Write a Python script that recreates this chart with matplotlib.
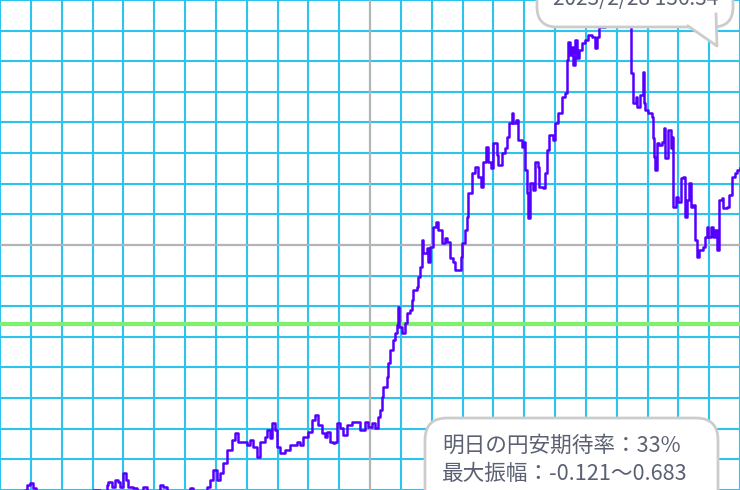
import matplotlib
matplotlib.use("Agg")
import matplotlib.pyplot as plt
import numpy as np
from matplotlib.patches import FancyBboxPatch, Polygon
from matplotlib.lines import Line2D
from matplotlib.transforms import IdentityTransform

plt.rcParams["font.family"] = ["Noto Sans CJK JP", "DejaVu Sans"]

# trading days (x) and USD/JPY rate (y)
days = [
    0, 7.1, 8.1, 8.8, 9.7, 10.7, 11.7, 16.2, 21.1, 25.9,
    30.2, 32.4, 34.7, 35.0, 36.3, 37.3, 38.3, 38.9, 39.9, 40.9,
    41.5, 43.1, 44.4, 46.4, 47.7, 49.3, 51.9, 52.9, 54.2, 56.8,
    59.4, 61.6, 62.6, 64.9, 67.1, 68.1, 69.1, 70.4, 71.4, 72.3,
    73.6, 75.2, 76.2, 77.2, 78.8, 80.1, 81.1, 82.1, 83.4, 84.3,
    85.9, 86.6, 87.6, 88.2, 89.2, 89.8, 90.8, 92.4, 94.1, 96.3,
    97.3, 98.3, 99.9, 101.2, 102.2, 103.1, 104.4, 105.4, 106.1, 107.0,
    108.0, 108.6, 109.3, 110.3, 111.2, 112.5, 114.2, 115.8, 116.8, 118.4,
    119.4, 120.6, 121.6, 122.6, 123.2, 123.9, 124.2, 125.5, 125.8, 126.5,
    127.5, 128.1, 128.8, 129.1, 129.4, 130.4, 131.4, 132.0, 133.0, 133.6,
    133.9, 135.2, 135.6, 136.2, 136.9, 137.2, 138.5, 138.8, 139.5, 140.4,
    141.4, 142.1, 143.3, 144.3, 145.0, 145.9, 146.9, 147.6, 148.5, 149.5,
    149.8, 150.8, 151.5, 151.8, 153.1, 154.1, 155.0, 156.0, 156.6, 157.6,
    158.3, 159.2, 159.9, 161.2, 161.5, 162.8, 163.8, 164.4, 165.1, 166.1,
    166.4, 167.4, 168.0, 169.3, 169.6, 170.3, 170.9, 171.2, 171.9, 172.9,
    173.5, 174.5, 174.8, 176.1, 176.8, 177.4, 178.1, 179.4, 180.0, 181.0,
    182.3, 183.2, 183.9, 184.2, 184.9, 185.5, 185.8, 186.5, 187.1, 187.8,
    188.8, 189.7, 190.7, 192.0, 193.0, 193.6, 194.3, 196.2, 198.5, 200.4,
    202.4, 204.3, 204.6, 205.3, 206.3, 206.6, 207.6, 208.5, 208.9, 209.2,
    210.2, 211.5, 211.8, 212.1, 212.4, 213.1, 213.7, 214.7, 215.4, 215.7,
    216.3, 216.6, 217.6, 217.9, 218.3, 219.2, 219.9, 220.9, 221.5, 222.2,
    222.8, 223.5, 224.1, 224.8, 225.4, 226.1, 226.7, 228.0, 228.6, 229.3,
    229.6, 230.6, 231.2, 231.9, 232.5, 233.2, 234.2, 234.5, 235.8, 236.4,
    237.4, 238.4, 239.0, 240.0,
]
rate = [
    119.51, 119.67, 120.00, 120.16, 120.23, 120.07, 119.77, 119.67, 119.74, 119.61,
    120.00, 119.93, 120.16, 120.26, 120.10, 120.33, 120.26, 120.10, 120.56, 120.33,
    120.10, 120.07, 119.97, 120.10, 119.97, 119.84, 120.16, 120.10, 119.97, 119.80,
    119.87, 120.07, 119.97, 119.90, 120.10, 120.33, 120.65, 120.33, 120.56, 120.88,
    121.31, 121.63, 121.86, 121.57, 121.57, 121.47, 121.63, 121.40, 121.08, 121.57,
    121.73, 121.96, 121.70, 122.19, 121.96, 121.40, 121.21, 121.31, 121.47, 121.57,
    121.47, 121.73, 121.89, 122.29, 122.45, 122.12, 121.86, 121.73, 121.89, 121.57,
    121.53, 121.57, 122.19, 122.02, 121.80, 122.12, 122.22, 122.22, 121.96, 122.22,
    122.06, 122.19, 122.02, 122.38, 122.61, 123.04, 123.36, 123.69, 124.15, 124.57,
    124.90, 125.13, 125.39, 125.98, 125.32, 125.13, 125.45, 125.78, 125.88, 126.20,
    126.53, 126.63, 126.96, 127.28, 128.16, 127.74, 127.90, 127.45, 127.94, 128.59,
    128.75, 128.49, 128.07, 128.23, 128.10, 127.58, 127.45, 127.18, 127.18, 127.61,
    128.07, 128.49, 128.91, 129.70, 130.35, 130.55, 130.22, 129.89, 130.71, 131.20,
    130.71, 130.51, 131.33, 130.94, 130.61, 131.00, 131.17, 131.53, 131.98, 132.31,
    131.98, 132.08, 131.43, 131.20, 131.36, 130.45, 129.70, 128.88, 130.02, 129.80,
    130.71, 130.55, 129.89, 129.86, 130.35, 131.10, 131.59, 131.43, 131.98, 132.31,
    132.83, 132.96, 134.04, 134.63, 134.20, 134.47, 133.88, 134.69, 134.11, 134.37,
    134.60, 134.69, 134.86, 134.79, 134.43, 134.79, 135.12, 135.51, 135.84, 136.34,
    135.84, 135.35, 133.62, 132.64, 132.83, 132.51, 132.90, 133.65, 132.64, 132.41,
    132.31, 132.18, 131.49, 130.87, 130.45, 131.33, 131.27, 131.36, 131.82, 130.84,
    130.84, 131.76, 131.17, 131.53, 129.24, 129.57, 129.40, 130.19, 130.22, 128.91,
    129.47, 130.02, 129.24, 129.31, 128.16, 127.61, 127.84, 127.94, 128.26, 128.59,
    128.26, 128.59, 128.26, 128.49, 127.84, 129.47, 129.53, 129.21, 129.24, 129.63,
    130.22, 130.35, 130.45, 130.51,
]

x_max = 240
y_min, y_max = 120, 136
center_x, center_y = 120, 128
green_level = 125.42

label_top = "2023/2/28 136.34"
label_bottom = "明日の円安期待率：33%\n最大振幅：-0.121〜0.683"

W, H = 740, 490
fig = plt.figure(figsize=(W / 100, H / 100), dpi=100)
ax = fig.add_axes([0, 0, 1, 1])
ax.set_xlim(0, x_max)
ax.set_ylim(y_min, y_max)
ax.axis("off")

grid_c = "#2cc3ee"
for gx in np.arange(0, x_max + 1, 10):
    ax.axvline(gx, color=grid_c, lw=1.5, zorder=1)
for gy in np.arange(y_min, y_max + 1, 1):
    ax.axhline(gy, color=grid_c, lw=1.5, zorder=1)
ax.axvline(center_x, color="#b4b4b4", lw=1.5, zorder=2)
ax.axhline(center_y, color="#b4b4b4", lw=1.5, zorder=2)
ax.axhline(green_level, color="#7ef06a", lw=3, zorder=2)

ax.plot(days, rate, color="#5500ff", lw=1.8, drawstyle="steps-post", zorder=3)

# callouts are drawn in output pixels (origin top-left, flipped here)
px = IdentityTransform()


def pt(x, y):
    return (x, H - y)


edge = "#cccccc"
text_c = "#5b6173"

# top callout (mostly cut off by the top edge)
x0, y0 = pt(537, 27)
fig.patches.append(FancyBboxPatch((x0, y0), 196, 80,
                                  boxstyle="round,pad=0,rounding_size=20",
                                  transform=px, facecolor="white",
                                  edgecolor=edge, lw=2, zorder=5))
tail = [pt(688, 26), pt(717, 46), pt(716, 14)]
fig.patches.append(Polygon(tail, closed=True, transform=px,
                           facecolor="white", edgecolor="none", zorder=6))
fig.lines.append(Line2D([p[0] for p in tail], [p[1] for p in tail],
                        transform=px, color=edge, lw=2, zorder=7))
fig.text(636 / W, 1 - 5 / H, label_top, ha="center", va="baseline",
         fontsize=15, color=text_c, zorder=8)

# bottom callout
x0, y0 = pt(425, 540)
fig.patches.append(FancyBboxPatch((x0, y0), 293, 122,
                                  boxstyle="round,pad=0,rounding_size=22",
                                  transform=px, facecolor="white",
                                  edgecolor=edge, lw=2, zorder=5))
fig.text(442 / W, 1 - 460 / H, label_bottom, ha="left", va="center",
         fontsize=15.6, color=text_c, linespacing=1.33, zorder=8)

fig.savefig("out.png", dpi=100)
